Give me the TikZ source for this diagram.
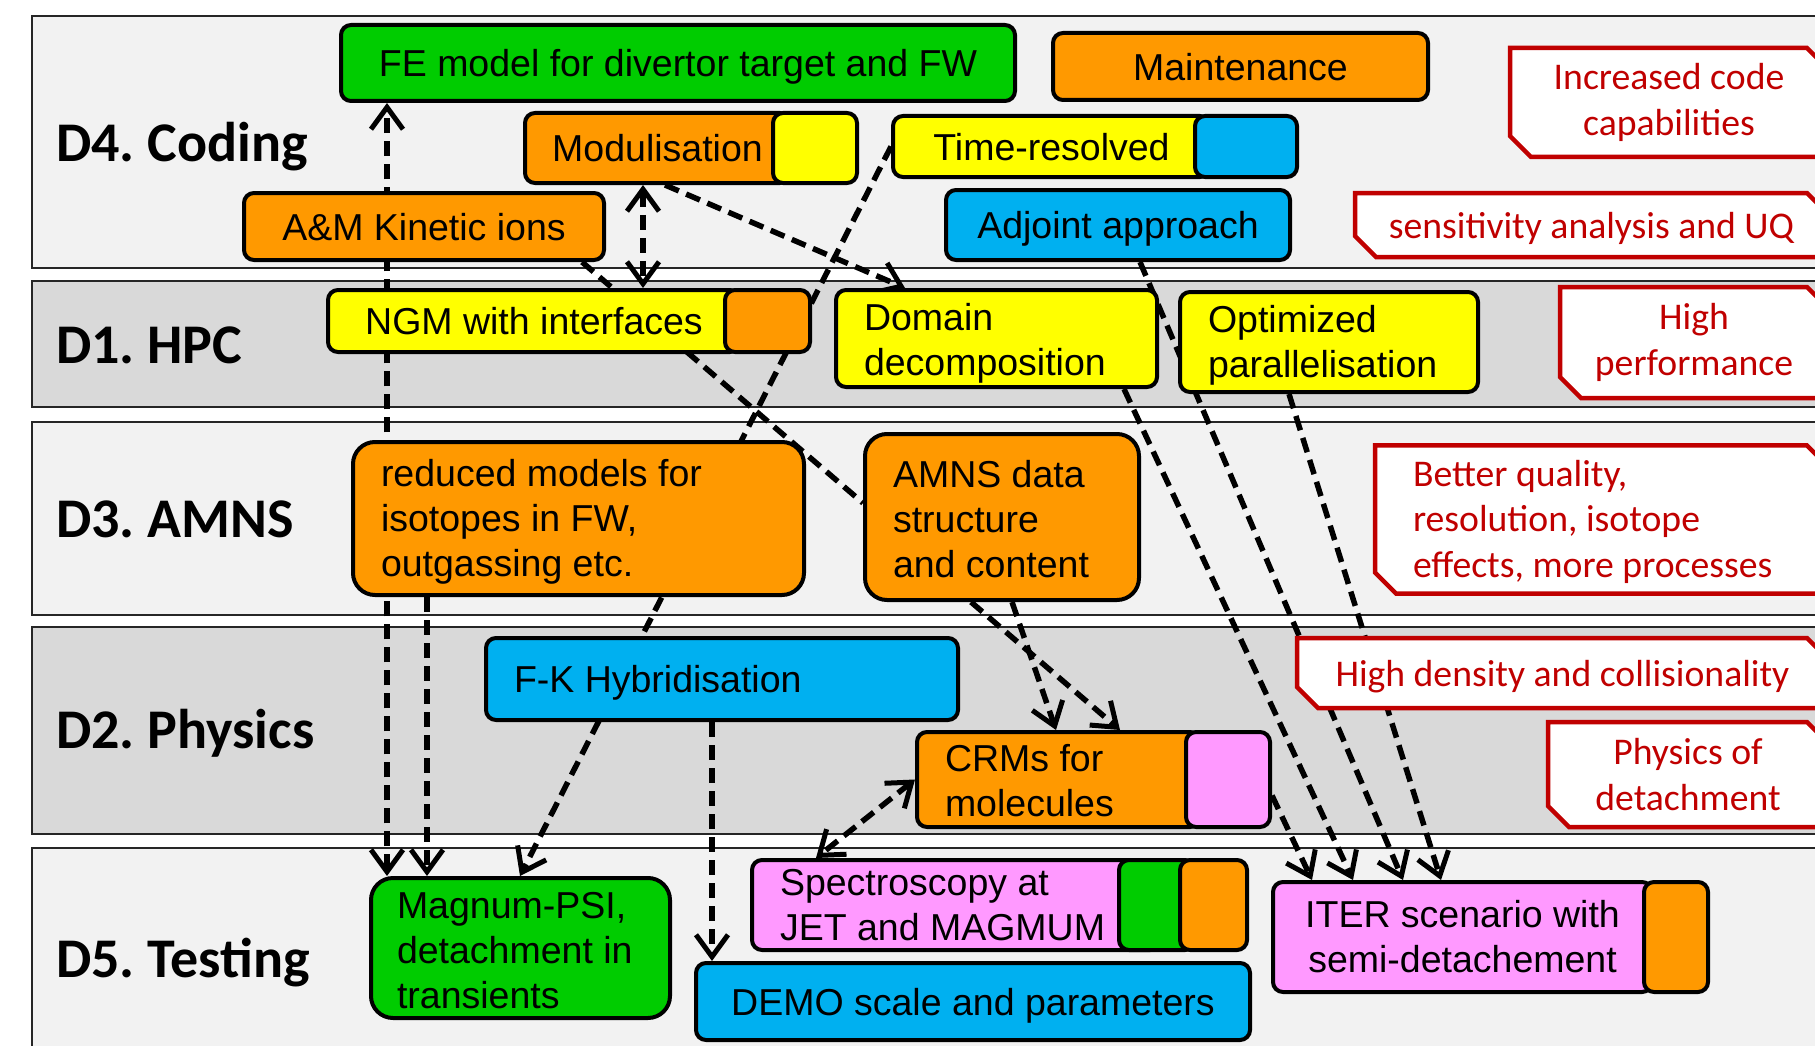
\documentclass[tikz,border=0pt]{standalone}
\usepackage{fontspec}
\setmainfont{Liberation Sans}
\newfontfamily\carlito{Carlito}
\usetikzlibrary{arrows.meta,shapes.misc}
\pgfdeclarelayer{edges}
\pgfsetlayers{edges,main}
\frenchspacing

\definecolor{fegreen}{HTML}{00CC00}
\definecolor{orng}{HTML}{FF9900}
\definecolor{yllw}{HTML}{FFFF00}
\definecolor{skyblue}{HTML}{00B0F0}
\definecolor{pnk}{HTML}{FF99FF}
\definecolor{goalred}{HTML}{C00000}
\definecolor{bandlight}{HTML}{F2F2F2}
\definecolor{banddark}{HTML}{D9D9D9}

\newcommand{\boxfont}{\fontsize{37.5}{45}\selectfont}
\newcommand{\goalfont}{\carlito\fontsize{37.7}{45.5}\selectfont}
\newcommand{\bandfont}{\carlito\bfseries\fontsize{56}{60}\selectfont}

\tikzset{
  every node/.style={execute at begin node={\spaceskip=0pt\xspaceskip=0pt}},
  % first line set a bit lower
  drop/.style={execute at begin node={\spaceskip=0pt\xspaceskip=0pt\rule{0pt}{#1}}},
  box/.style={draw=black, line width=4pt, rounded corners=10pt, inner sep=0pt, font=\boxfont},
  lbox/.style={box, align=left, inner xsep=28pt},
  single/.style={text depth=0pt},
  tab/.style={draw=black, line width=4pt, rounded corners=10pt, inner sep=0pt},
  goal/.style={draw=goalred, line width=4.5pt, fill=white, text=goalred, font=\goalfont,
    align=center, inner sep=0pt, chamfered rectangle,
    chamfered rectangle corners={north east,south west},
    chamfered rectangle xsep=11pt, chamfered rectangle ysep=10pt},
  band/.style={draw=black!85, line width=2.5pt},
  bandlabel/.style={anchor=base west, font=\bandfont, inner sep=0pt},
  link/.style={line width=5.5pt, dash pattern=on 15pt off 8pt},
  >={Straight Barb[length=22pt,width=32pt,line width=5pt]}
}

\begin{document}
\begin{tikzpicture}[x=1pt, y=-1pt]
\useasboundingbox (0,0) rectangle (1815,1046);

% bands
\begin{pgfonlayer}{edges}
\draw[band, fill=bandlight] (32,16) rectangle (1830,268);
\draw[band, fill=banddark] (32,281) rectangle (1830,407);
\draw[band, fill=bandlight] (32,422) rectangle (1830,615);
\draw[band, fill=banddark] (32,627) rectangle (1830,834);
\draw[band, fill=bandlight] (32,848) rectangle (1830,1060);
\end{pgfonlayer}

\node[bandlabel] (lcoding) at (56,161) {D4. Coding};
\node[bandlabel] (lhpc) at (56,363) {D1. HPC};
\node[bandlabel] (lamns) at (56,537) {D3. AMNS};
\node[bandlabel] (lphys) at (56,748) {D2. Physics};
\node[bandlabel] (ltest) at (56,977) {D5. Testing};

% D4
\node[box, single, fill=fegreen, minimum width=674pt, minimum height=76pt] (fe) at (678,63) {FE model for divertor target and FW};
\node[box, single, fill=orng, minimum width=375pt, minimum height=67pt] (maint) at (1240.5,66.5) {Maintenance};
\node[box, single, fill=orng, minimum width=265pt, minimum height=70pt] (modul) at (657.5,148) {Modulisation};
\node[tab, fill=yllw, minimum width=84pt, minimum height=70pt] (modultab) at (815,148) {};
\node[box, single, fill=yllw, minimum width=317pt, minimum height=61pt] (timeres) at (1051.5,146.5) {Time-resolved};
\node[tab, fill=skyblue, minimum width=102pt, minimum height=61pt] (timerestab) at (1246,146.5) {};
\node[box, single, fill=orng, minimum width=360pt, minimum height=67pt] (amki) at (424,226.5) {A\&M Kinetic ions};
\node[box, single, fill=skyblue, minimum width=344pt, minimum height=70pt] (adjoint) at (1118,225) {Adjoint approach};

% D1
\node[box, single, fill=yllw, minimum width=412pt, minimum height=62pt] (ngm) at (534,321) {NGM with interfaces};
\node[tab, fill=orng, minimum width=85pt, minimum height=62pt] (ngmtab) at (767.5,321) {};
\node[lbox, drop=36pt, fill=yllw, text width=265pt, minimum height=97pt] (domain) at (996.5,338.5) {Domain\\decomposition};
\node[lbox, drop=34pt, fill=yllw, text width=242pt, minimum height=100pt] (optim) at (1329,342) {Optimized\\parallelisation};

% D3
\node[lbox, drop=34pt, fill=orng, rounded corners=22pt, text width=395pt, minimum height=153pt] (reduced) at (578.5,518.5) {reduced models for\\isotopes in FW,\\outgassing etc.};
\node[lbox, drop=32pt, fill=orng, rounded corners=22pt, text width=218pt, minimum height=166pt] (amns) at (1002,517) {AMNS data\\structure\\and content};

% D2
\node[lbox, single, fill=skyblue, text width=416pt, minimum height=82pt] (fk) at (722,679) {F-K Hybridisation};
\node[lbox, drop=30pt, fill=orng, text width=227pt, minimum height=95pt] (crms) at (1058.5,779.5) {CRMs for\\molecules};
\node[tab, fill=pnk, minimum width=84pt, minimum height=95pt] (crmstab) at (1228,779.5) {};

% D5
\node[lbox, drop=32pt, fill=fegreen, rounded corners=22pt, inner xsep=26pt, text width=247pt, minimum height=140pt] (magnum) at (520.5,948) {Magnum-PSI,\\detachment in\\transients};
\node[lbox, fill=pnk, text width=352pt, minimum height=90pt] (spectro) at (956,905) {Spectroscopy at\\JET and MAGMUM};
\node[tab, fill=fegreen, minimum width=76pt, minimum height=90pt] (spectrogreen) at (1157,905) {};
\node[tab, fill=orng, minimum width=67pt, minimum height=90pt] (spectroorng) at (1213.5,905) {};
\node[box, single, fill=skyblue, minimum width=554pt, minimum height=77pt] (demo) at (973,1001.5) {DEMO scale and parameters};
\node[box, fill=pnk, align=center, minimum width=379pt, minimum height=110pt] (iter) at (1462.5,937) {ITER scenario with\\semi-detachement};
\node[tab, fill=orng, minimum width=64pt, minimum height=110pt] (itertab) at (1676,937) {};

% goals
\node[goal, drop=37pt, minimum width=318pt, minimum height=109pt] (gcode) at (1669,102.5) {Increased code\\capabilities};
\node[goal, single, minimum width=473pt, minimum height=64pt] (gsens) at (1591.5,225) {sensitivity analysis and UQ};
\node[goal, drop=37pt, minimum width=268pt, minimum height=111pt] (gperf) at (1694,342.5) {High\\performance};
\node[goal, drop=31pt, align=left, text width=377pt, minimum width=453pt, minimum height=145pt] (gqual) at (1601.5,519.5) {Better quality,\\resolution, isotope\\effects, more processes};
\node[goal, single, minimum width=531pt, minimum height=70pt] (gdens) at (1562.5,673) {High density and collisionality};
\node[goal, minimum width=280pt, minimum height=105pt] (gdet) at (1688,774.5) {Physics of\\detachment};

\begin{pgfonlayer}{edges}
\draw[link, <->] ([xshift=18pt]magnum.north west) -- ([xshift=48pt]fe.south west);
\draw[link, ->] ([xshift=76pt]reduced.south west) -- ([xshift=58pt]magnum.north west);
\draw[link, ->] (timeres.west) -- ([xshift=151pt]magnum.north west);
\draw[link, <->] ([xshift=120pt]modul.south west) -- ([xshift=317pt]ngm.north west);
\draw[link, ->] ([xshift=142pt]modul.south west) -- ([xshift=71pt]domain.north west);
\draw[link] ([xshift=-24pt]amki.south east) -- ([yshift=14pt]amns.west);
\draw[link, ->] ([xshift=108pt]amns.south west) -- ([xshift=205pt]crms.north west);
\draw[link, ->] ([xshift=149pt]amns.south west) -- ([xshift=141pt]crms.north west);
\draw[link, <->] (crms.west) -- ([xshift=66pt]spectro.north west);
\draw[link, ->] ([xshift=228pt]fk.south west) -- ([xshift=18pt]demo.north west);
\draw[link, ->] ([yshift=-16pt]crmstab.east) -- ([xshift=41pt]iter.north west);
\draw[link, ->] ([xshift=-35pt]domain.south east) -- ([xshift=82pt]iter.north west);
\draw[link, ->] ([xshift=196pt]adjoint.south west) -- ([xshift=132pt]iter.north west);
\draw[link, ->] ([xshift=111pt]optim.south west) -- ([xshift=170pt]iter.north west);
\end{pgfonlayer}
\end{tikzpicture}
\end{document}
